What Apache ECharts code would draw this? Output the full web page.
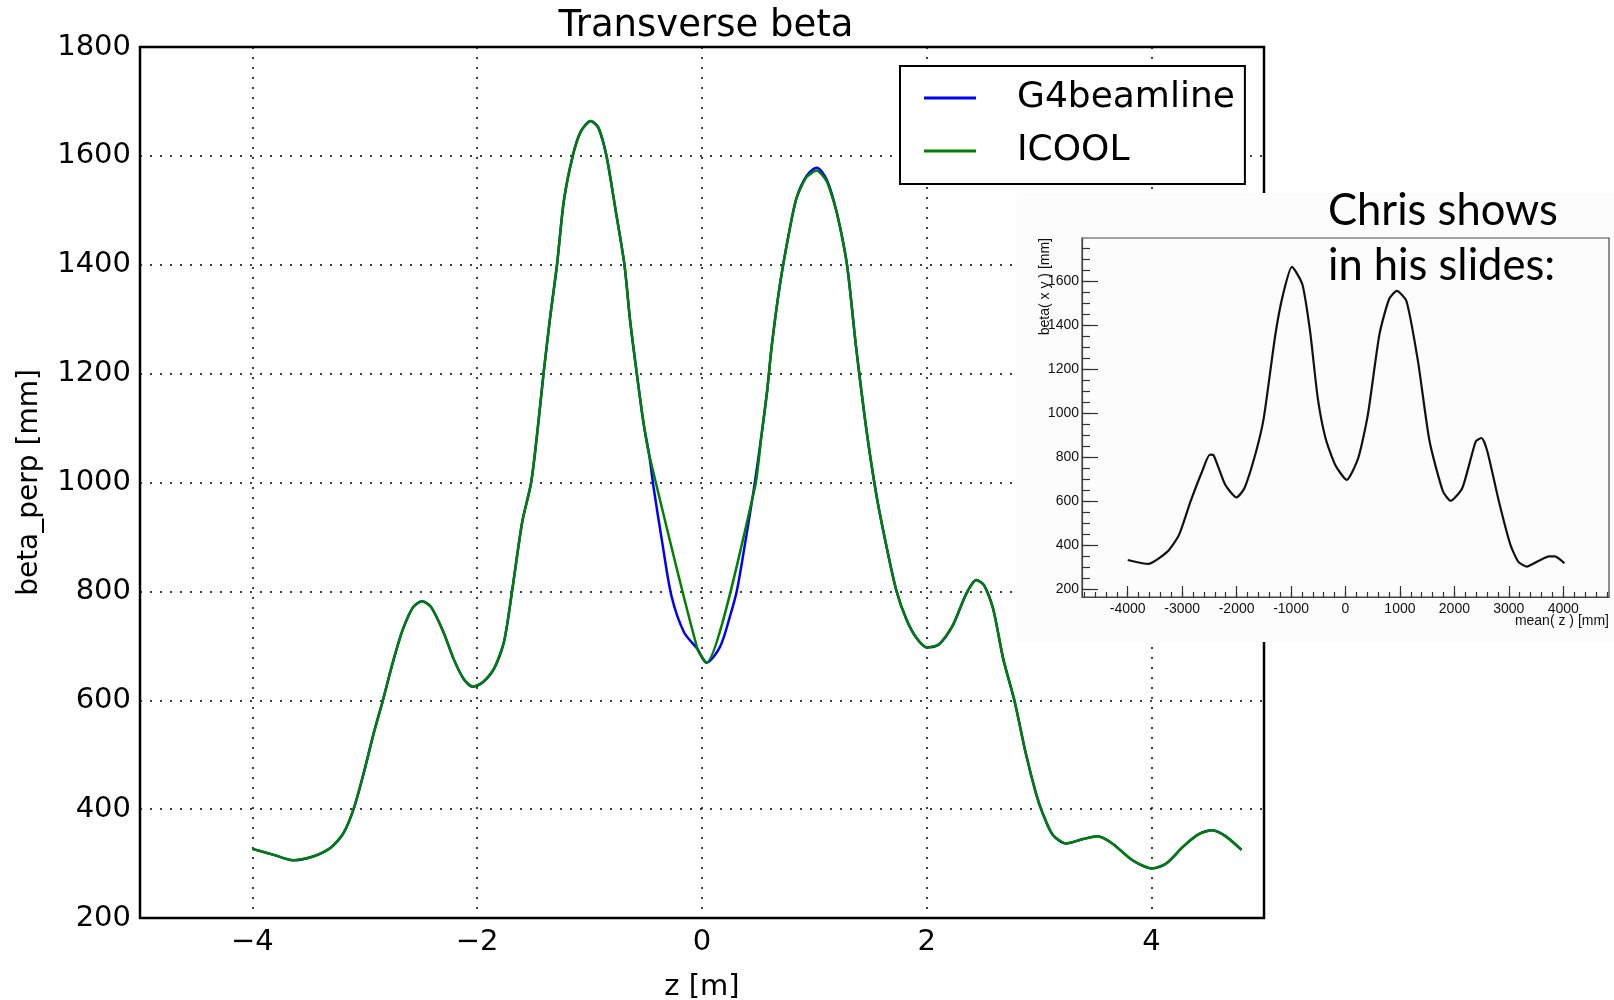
<!DOCTYPE html>
<html>
<head>
<meta charset="utf-8">
<script src="https://cdn.jsdelivr.net/npm/echarts@6/dist/echarts.min.js"></script>
<style>
  html, body { margin: 0; padding: 0; background: #fff; }
  #chart { width: 1614px; height: 1000px; }
</style>
</head>
<body>
<div id="chart"></div>
<script>
// main plot: z [m] vs beta_perp [mm]
const g4Z = [-4.0, -3.81, -3.64, -3.46, -3.31, -3.19, -3.10, -3.01, -2.92, -2.84,
  -2.75, -2.66, -2.57, -2.49, -2.41, -2.30, -2.21, -2.12, -2.04, -1.95,
  -1.85, -1.76, -1.69, -1.60, -1.52, -1.46, -1.41, -1.35, -1.29, -1.23,
  -1.15, -1.08, -0.99, -0.92, -0.85, -0.77, -0.69, -0.64, -0.58, -0.52,
  -0.47, -0.43, -0.35, -0.27, -0.16, -0.04, 0.04, 0.16, 0.25, 0.31,
  0.38, 0.46, 0.53, 0.58, 0.62, 0.69, 0.77, 0.84, 0.93, 1.02,
  1.11, 1.20, 1.29, 1.37, 1.46, 1.55, 1.64, 1.73, 1.82, 1.91,
  2.00, 2.11, 2.23, 2.35, 2.44, 2.51, 2.59, 2.68, 2.78, 2.88,
  2.97, 3.03, 3.12, 3.24, 3.39, 3.52, 3.65, 3.83, 4.00, 4.13,
  4.28, 4.42, 4.54, 4.66, 4.80]
const g4Beta = [327, 316, 306, 313, 328, 356, 400, 466, 540, 599,
  670, 731, 771, 782, 771, 725, 676, 639, 625, 633,
  658, 709, 800, 927, 1000, 1102, 1200, 1305, 1400, 1516,
  1600, 1644, 1664, 1651, 1600, 1502, 1400, 1298, 1200, 1109,
  1051, 990, 885, 790, 725, 694, 669, 698, 755, 801,
  884, 986, 1088, 1169, 1250, 1359, 1454, 1522, 1563, 1578,
  1556, 1495, 1400, 1250, 1101, 979, 884, 801, 748, 714,
  697, 703, 737, 795, 821, 811, 768, 676, 599, 503,
  430, 393, 353, 337, 345, 350, 337, 306, 291, 300,
  331, 354, 361, 350, 325]

const icoolZ = [-4.0, -3.81, -3.64, -3.46, -3.31, -3.19, -3.10, -3.01, -2.92, -2.84,
  -2.75, -2.66, -2.57, -2.49, -2.41, -2.30, -2.21, -2.12, -2.04, -1.95,
  -1.85, -1.76, -1.69, -1.60, -1.52, -1.46, -1.41, -1.35, -1.29, -1.23,
  -1.15, -1.08, -0.99, -0.92, -0.85, -0.77, -0.69, -0.64, -0.58, -0.52,
  -0.47, -0.04, 0.04, 0.47, 0.53, 0.58, 0.62, 0.69, 0.77, 0.84,
  0.93, 1.02, 1.11, 1.20, 1.29, 1.37, 1.46, 1.55, 1.64, 1.73,
  1.82, 1.91, 2.00, 2.11, 2.23, 2.35, 2.44, 2.51, 2.59, 2.68,
  2.78, 2.88, 2.97, 3.03, 3.12, 3.24, 3.39, 3.52, 3.65, 3.83,
  4.00, 4.13, 4.28, 4.42, 4.54, 4.66, 4.80]
const icoolBeta = [327, 316, 306, 313, 328, 356, 400, 466, 540, 599,
  670, 731, 771, 782, 771, 725, 676, 639, 625, 633,
  658, 709, 800, 927, 1000, 1102, 1200, 1305, 1400, 1516,
  1600, 1644, 1664, 1651, 1600, 1502, 1400, 1298, 1200, 1109,
  1051, 694, 669, 990, 1088, 1169, 1250, 1359, 1454, 1522,
  1561, 1573, 1553, 1495, 1400, 1250, 1101, 979, 884, 801,
  748, 714, 697, 703, 737, 795, 821, 811, 768, 676,
  599, 503, 430, 393, 353, 337, 345, 350, 337, 306,
  291, 300, 331, 354, 361, 350, 325]

const zTicks = [-4, -2, 0, 2, 4]

// inset ("Chris shows in his slides"): mean(z) [mm] vs beta [mm]
const insetZ = [-4000, -3625, -3271, -3058, -2846, -2634, -2492, -2421, -2209, -2000,
  -1855, -1642, -1501, -1288, -1147, -984, -793, -651, -510, -368,
  -191, 21, 234, 411, 623, 800, 942, 1119, 1331, 1544,
  1791, 1933, 2146, 2393, 2500, 2606, 2818, 3030, 3172, 3328,
  3526, 3739, 3845, 4022]
const insetBeta = [333, 315, 371, 447, 599, 735, 811, 808, 675, 617,
  660, 826, 978, 1357, 1539, 1664, 1585, 1372, 1069, 887,
  766, 697, 796, 993, 1357, 1517, 1555, 1509, 1236, 872,
  644, 602, 660, 872, 887, 826, 599, 402, 326, 303,
  326, 349, 349, 318]

const insetZTicks = [-4000, -3000, -2000, -1000, 0, 1000, 2000, 3000, 4000]
const insetZMinor = [-4800, -4600, -4400, -4200, -4000, -3800, -3600, -3400, -3200, -3000,
  -2800, -2600, -2400, -2200, -2000, -1800, -1600, -1400, -1200, -1000,
  -800, -600, -400, -200, 0, 200, 400, 600, 800, 1000,
  1200, 1400, 1600, 1800, 2000, 2200, 2400, 2600, 2800, 3000,
  3200, 3400, 3600, 3800, 4000, 4200, 4400, 4600, 4800]
const insetBetaTicks = [200, 400, 600, 800, 1000, 1200, 1400, 1600]
const insetBetaMinor = [200, 250, 300, 350, 400, 450, 500, 550, 600, 650,
  700, 750, 800, 850, 900, 950, 1000, 1050, 1100, 1150,
  1200, 1250, 1300, 1350, 1400, 1450, 1500, 1550, 1600, 1650,
  1700, 1750]

const pairs = (xs, ys) => xs.map((x, i) => [x, ys[i]])
const minus = v => (v < 0 ? '\u2212' + Math.abs(v) : String(v))
const plain = v => String(v)

const FONT = 'DejaVu Sans'
const INSET_FONT = 'Liberation Sans'
const dotted = { color: '#000', width: 1.5, type: [2, 8] }
const insetTick = { color: '#333', width: 1.2 }

const myChart = echarts.init(document.getElementById('chart'), null, { renderer: 'canvas' })

const options = {
  animation: false,
  backgroundColor: '#fff',
  title: {
    text: 'Transverse beta',
    left: 706,
    top: 8,
    padding: 0,
    textAlign: 'center',
    textStyle: { fontFamily: FONT, fontSize: 37, fontWeight: 'normal', color: '#000' }
  },
  legend: {
    orient: 'vertical',
    left: 900,
    top: 66,
    padding: [14, 10, 15, 24],
    itemGap: 17,
    itemWidth: 52,
    itemHeight: 3,
    icon: 'rect',
    selectedMode: false,
    backgroundColor: '#fff',
    borderColor: '#000',
    borderWidth: 2,
    borderRadius: 0,
    data: ['G4beamline', 'ICOOL'],
    textStyle: { fontFamily: FONT, fontSize: 36, color: '#000', padding: [0, 0, 0, 36] }
  },
  grid: [
    {
      left: 140, top: 47, width: 1124, height: 871,
      show: true, borderColor: '#000', borderWidth: 2.5,
      backgroundColor: 'transparent', outerBoundsMode: 'none'
    },
    {
      left: 1082, top: 238, width: 527, height: 359,
      show: true, borderColor: '#444', borderWidth: 1.2,
      backgroundColor: 'transparent', outerBoundsMode: 'none', z: 60
    }
  ],
  xAxis: [
    {
      type: 'value', gridIndex: 0, min: -5, max: 5,
      name: 'z [m]', nameLocation: 'middle', nameGap: 55, nameMoveOverlap: false,
      nameTextStyle: { fontFamily: FONT, fontSize: 29, color: '#000' },
      axisLine: { show: false, onZero: false },
      axisTick: { show: false, customValues: zTicks },
      axisLabel: {
        customValues: zTicks, formatter: minus, margin: 10,
        fontFamily: FONT, fontSize: 29, color: '#000'
      },
      splitLine: { show: true, lineStyle: dotted }
    },
    {
      type: 'value', gridIndex: 1, min: -4840, max: 4840, position: 'bottom', z: 60,
      axisLine: { show: true, onZero: false, lineStyle: { color: '#444', width: 1.2 } },
      axisTick: { show: true, inside: true, length: 11, customValues: insetZTicks, lineStyle: insetTick },
      axisLabel: {
        customValues: insetZTicks, formatter: plain, margin: 5,
        fontFamily: INSET_FONT, fontSize: 14, color: '#111'
      },
      splitLine: { show: false }
    },
    {
      type: 'value', gridIndex: 1, min: -4840, max: 4840, position: 'bottom', z: 60,
      axisLine: { show: false, onZero: false },
      axisTick: { show: true, inside: true, length: 5, customValues: insetZMinor, lineStyle: insetTick },
      axisLabel: { show: false },
      splitLine: { show: false }
    }
  ],
  yAxis: [
    {
      type: 'value', gridIndex: 0, min: 200, max: 1800, interval: 200,
      name: 'beta_perp [mm]', nameLocation: 'middle', nameGap: 96, nameMoveOverlap: false,
      nameTextStyle: { fontFamily: FONT, fontSize: 28, color: '#000' },
      axisLine: { show: false, onZero: false },
      axisTick: { show: false },
      axisLabel: { formatter: plain, margin: 9, fontFamily: FONT, fontSize: 29, color: '#000' },
      splitLine: { show: true, lineStyle: dotted }
    },
    {
      type: 'value', gridIndex: 1, min: 165, max: 1795, position: 'left', z: 60,
      axisLine: { show: true, onZero: false, lineStyle: { color: '#444', width: 1.2 } },
      axisTick: { show: true, inside: true, length: 16, customValues: insetBetaTicks, lineStyle: insetTick },
      axisLabel: {
        customValues: insetBetaTicks, formatter: plain, margin: 3,
        fontFamily: INSET_FONT, fontSize: 14, color: '#111'
      },
      splitLine: { show: false }
    },
    {
      type: 'value', gridIndex: 1, min: 165, max: 1795, position: 'left', z: 60,
      axisLine: { show: false, onZero: false },
      axisTick: { show: true, inside: true, length: 8, customValues: insetBetaMinor, lineStyle: insetTick },
      axisLabel: { show: false },
      splitLine: { show: false }
    }
  ],
  graphic: [
    {
      type: 'rect', z: 50, silent: true,
      shape: { x: 1017, y: 193, width: 597, height: 449 },
      style: { fill: '#fcfcfc' }
    },
    {
      type: 'text', z: 70, x: 1328, y: 211,
      style: { text: 'Chris shows', fontFamily: 'Lato', fontSize: 43.5, fill: '#000', align: 'left', verticalAlign: 'middle' }
    },
    {
      type: 'text', z: 70, x: 1328, y: 266,
      style: { text: 'in his slides:', fontFamily: 'Lato', fontSize: 43.5, fill: '#000', align: 'left', verticalAlign: 'middle' }
    },
    {
      type: 'text', z: 70, x: 1045, y: 238, rotation: Math.PI / 2,
      style: { text: 'beta( x y ) [mm]', fontFamily: INSET_FONT, fontSize: 14, fill: '#111', align: 'right', verticalAlign: 'middle' }
    },
    {
      type: 'text', z: 70, x: 1609, y: 621,
      style: { text: 'mean( z ) [mm]', fontFamily: INSET_FONT, fontSize: 14, fill: '#111', align: 'right', verticalAlign: 'middle' }
    }
  ],
  series: [
    {
      name: 'G4beamline', type: 'line', xAxisIndex: 0, yAxisIndex: 0,
      data: pairs(g4Z, g4Beta), symbol: 'none', showSymbol: false, smooth: 0.3,
      lineStyle: { color: '#0000ff', width: 2.5 }, itemStyle: { color: '#0000ff' }
    },
    {
      name: 'ICOOL', type: 'line', xAxisIndex: 0, yAxisIndex: 0,
      data: pairs(icoolZ, icoolBeta), symbol: 'none', showSymbol: false, smooth: 0.2,
      lineStyle: { color: '#008000', width: 2.5 }, itemStyle: { color: '#008000' }
    },
    {
      name: 'inset', type: 'line', xAxisIndex: 1, yAxisIndex: 1, z: 60,
      data: pairs(insetZ, insetBeta), symbol: 'none', showSymbol: false, smooth: 0.2,
      lineStyle: { color: '#111', width: 2.2 }, itemStyle: { color: '#111' }
    }
  ]
}

myChart.setOption(options)
window.addEventListener('resize', () => myChart.resize())
</script>
</body>
</html>
